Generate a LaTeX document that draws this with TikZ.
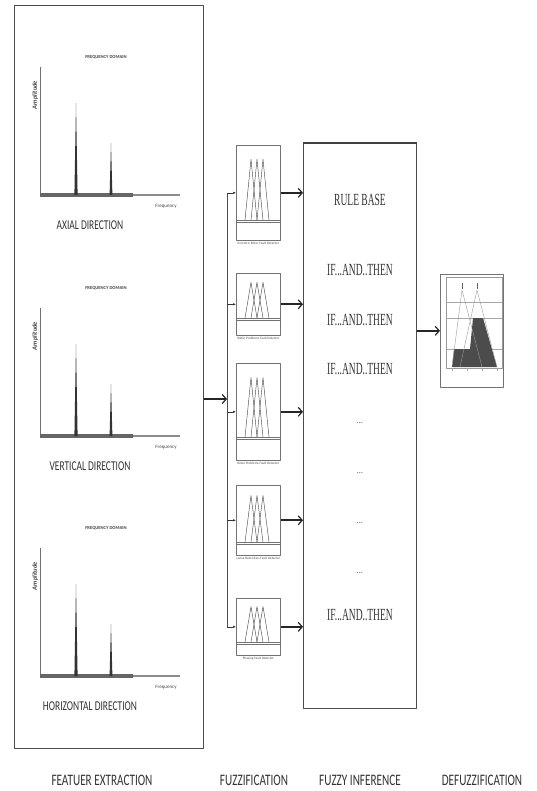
\documentclass[tikz,border=0pt]{standalone}
\usepackage{fontspec}
\setmainfont{Liberation Serif}
\newfontfamily\carlitonarrow[FakeStretch=0.7]{Carlito}
\newfontfamily\carlito{Carlito}
\newfontfamily\serifnarrow[FakeStretch=0.56]{Liberation Serif}
\usetikzlibrary{arrows.meta, positioning}

\begin{document}
\begin{tikzpicture}[x=1pt, y=-1pt, line join=round,
    panel/.style={draw=black!70, line width=0.9pt, inner sep=0pt, anchor=north west},
    fuzzbox/.style={draw=black!55, line width=0.6pt, minimum width=44pt, inner sep=0pt, anchor=north west},
    bigarrow/.style={-{Straight Barb[length=4pt, width=9pt, line width=1.2pt]}, line width=1.8pt, black!85},
    smallarrow/.style={-{Latex[length=3pt, width=2.4pt]}, line width=0.5pt, black!80},
    stage/.style={font=\carlitonarrow\fontsize{16}{16}\selectfont, text=black!80},
    direction/.style={font=\carlitonarrow\fontsize{13.5}{14}\selectfont, text=black!80},
    ruletext/.style={font=\serifnarrow\fontsize{17}{17}\selectfont, text=black!80},
    smalltext/.style={font=\carlito\fontsize{5}{5}\selectfont, text=black!75, inner sep=0pt},
    blocklabel/.style={font=\carlito\fontsize{3.4}{4}\selectfont, text=black!70, inner sep=0.5pt}]

    \useasboundingbox (0,0) rectangle (537,791);

    % Nodes
    \node (feat) [panel, minimum width=189pt, minimum height=743pt] at (14,5) {};
    \node (rule) [panel, minimum width=113pt, minimum height=565pt] at (303,143) {};
    \node (defuzz) [panel, draw=black!55, line width=0.6pt, minimum width=63pt, minimum height=113pt] at (440,274) {};
    \coordinate (busin) at (227,399);

    % spectra
    \foreach \b/\t/\dir in {195/57/AXIAL DIRECTION, 436/288/VERTICAL DIRECTION, 676/528/HORIZONTAL DIRECTION} {
        \node (title\b) [smalltext, font=\carlito\bfseries\fontsize{4.6}{5}\selectfont] at (106,\t) {FREQUENCY DOMAIN};
        \draw[black!55, line width=0.8pt] (40,\b-128) -- (40,\b);
        \fill[black!60] (40,\b-1.6) rectangle (133,\b+1.6);
        \draw[black!45, line width=1.2pt] (133,\b) -- (180,\b);
        \fill[black!80] (74.4,\b) -- (76,\b-92) -- (77.6,\b) -- cycle;
        \fill[black!80] (109.6,\b) -- (111,\b-52) -- (112.4,\b) -- cycle;
        \node (amp\b) [smalltext, font=\carlito\bfseries\itshape\fontsize{6.5}{7}\selectfont, rotate=90] at (35,\b-100) {Amplitude};
        \node (freq\b) [smalltext] at (166,\b+11) {Frequency};
        \node (dir\b) [direction] at (90,\b+30) {\dir};
    }

    % fuzzification blocks
    \foreach \n/\t/\h/\l/\lab in {1/145/95/75/Eccentric Rotor Fault Detector, 2/273/62/45/Stator Problems Fault Detector,
        3/363/97/74/Rotor Problems Fault Detector, 4/485/70/57/Loose Rotor Bars Fault Detector, 5/598/57/44/Phasing Fault Detector} {
        \node (fz\n) [fuzzbox, minimum height=\h pt] at (236,\t) {};
        \node (fzlab\n) [blocklabel, below=1pt of fz\n] {\lab};
        \draw[black!55, line width=0.4pt] (236,\t+\l) -- (280,\t+\l);
        \draw[black!55, line width=0.4pt] (236,\t+\l+2) -- (280,\t+\l+2);
        \foreach \p in {251,257,263}
            \draw[black!70, line width=0.45pt] (\p-6,\t+\l) -- (\p,\t+0.15*\h) -- (\p+6,\t+\l);
    }

    % rule base texts
    \node (rbtitle) [ruletext] at (360,200) {RULE BASE};
    \node (r1) [ruletext] at (360,270) {IF...AND..THEN};
    \node (r2) [ruletext] at (360,320) {IF...AND..THEN};
    \node (r3) [ruletext] at (360,369) {IF...AND..THEN};
    \foreach \y in {423,473,523,573}
        \node (dots\y) [ruletext, font=\serifnarrow\fontsize{11}{11}\selectfont] at (360,\y) {\dots};
    \node (r4) [ruletext] at (360,615) {IF...AND..THEN};
    \draw[black!75, line width=1.8pt] (rule.north west) -- (rule.north east);

    % defuzzification plot
    \draw[black!40, line width=0.4pt] (446,277) rectangle (502,368);
    \foreach \y in {302,318,349}
        \draw[black!35, line width=0.4pt] (446,\y) -- (502,\y);
    \fill[black!70] (452,367) -- (454,349) -- (470,349) -- (473,318) -- (483,318) -- (497,367) -- cycle;
    \draw[black!40, line width=0.4pt] (462,290) -- (452,367) (462,290) -- (482,367)
        (477,290) -- (460,367) (477,290) -- (497,367);
    \draw[black!60, line width=0.6pt] (462,283) -- (462,289) (477,283) -- (477,289);
    \foreach \x in {452,467,482,497}
        \draw[black!35, line width=0.3pt] (\x,368) -- (\x,371);

    % stage labels
    \node (s1) [stage] at (102,780) {FEATUER EXTRACTION};
    \node (s2) [stage] at (254,780) {FUZZIFICATION};
    \node (s3) [stage] at (360,780) {FUZZY INFERENCE};
    \node (s4) [stage] at (482,780) {DEFUZZIFICATION};

    % Links
    \draw[bigarrow] (feat.east |- busin) -- (busin);
    \draw[black!70, line width=0.7pt] (fz1.west -| busin) -- (fz5.west -| busin);
    \foreach \n in {1,...,5} {
        \draw[smallarrow] (fz\n.west -| busin) -- (fz\n.west);
        \draw[bigarrow] (fz\n.east) -- (fz\n.east -| rule.west);
    }
    \draw[bigarrow] (defuzz.west -| rule.east) -- (defuzz.west);
\end{tikzpicture}
\end{document}
